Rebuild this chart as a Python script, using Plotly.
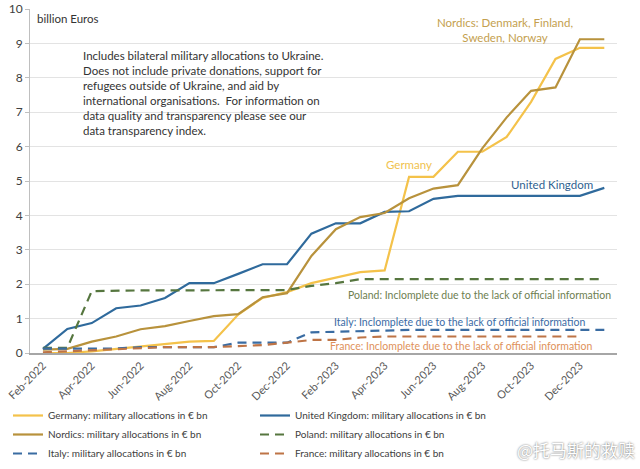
import plotly.graph_objects as go

months = ["Feb-2022", "Mar-2022", "Apr-2022", "May-2022", "Jun-2022", "Jul-2022",
          "Aug-2022", "Sep-2022", "Oct-2022", "Nov-2022", "Dec-2022", "Jan-2023",
          "Feb-2023", "Mar-2023", "Apr-2023", "May-2023", "Jun-2023", "Jul-2023",
          "Aug-2023", "Sep-2023", "Oct-2023", "Nov-2023", "Dec-2023", "Jan-2024"]
tick_labels = months[::2]

germany = [0.0, 0.0, 0.05, 0.12, 0.18, 0.27, 0.33, 0.35, 1.12, 1.6, 1.77, 2.03,
           2.2, 2.35, 2.4, 5.12, 5.12, 5.85, 5.85, 6.28, 7.3, 8.55, 8.87, 8.87]
uk = [0.12, 0.7, 0.87, 1.3, 1.38, 1.6, 2.03, 2.03, 2.3, 2.58, 2.58, 3.47,
      3.77, 3.77, 4.1, 4.12, 4.48, 4.57, 4.57, 4.57, 4.57, 4.57, 4.57, 4.8]
nordics = [0.1, 0.12, 0.33, 0.48, 0.69, 0.78, 0.93, 1.07, 1.13, 1.62, 1.74, 2.82,
           3.6, 3.95, 4.07, 4.5, 4.78, 4.88, 5.95, 6.85, 7.62, 7.72, 9.12, 9.12]
poland = [0.15, 0.15, 1.8, 1.82, 1.82, 1.82, 1.82, 1.82, 1.82, 1.82, 1.83, 1.95,
          2.03, 2.15, 2.15, 2.15, 2.15, 2.15, 2.15, 2.15, 2.15, 2.15, 2.15, 2.15]
italy = [0.13, 0.13, 0.13, 0.13, 0.17, 0.17, 0.17, 0.17, 0.3, 0.3, 0.3, 0.6,
         0.62, 0.64, 0.67, 0.67, 0.67, 0.67, 0.67, 0.67, 0.67, 0.67, 0.67, 0.67]
france = [0.02, 0.05, 0.08, 0.1, 0.15, 0.17, 0.17, 0.17, 0.2, 0.23, 0.3, 0.38,
          0.38, 0.45, 0.48, 0.48, 0.48, 0.48, 0.48, 0.48, 0.48, 0.48, 0.48, None]

FONT = "Lato"
C_GER = "#F4C24A"
C_UK = "#2F6A9C"
C_NOR = "#B8923C"
C_POL = "#56763F"
C_ITA = "#3A6CA2"
C_FRA = "#BE7446"

x = list(range(len(months)))
fig = go.Figure()
series = [
    ("Germany: military allocations in € bn", germany, C_GER, "solid"),
    ("United Kingdom: military allocations in € bn", uk, C_UK, "solid"),
    ("Nordics: military allocations in € bn", nordics, C_NOR, "solid"),
    ("Poland: military allocations in € bn", poland, C_POL, "9px,6px"),
    ("Italy: military allocations in € bn", italy, C_ITA, "9px,6px"),
    ("France: military allocations in € bn", france, C_FRA, "9px,6px"),
]
for name, vals, col, dash in series:
    fig.add_trace(go.Scatter(x=x, y=vals, mode="lines", name=name,
                             line=dict(color=col, width=2.2, dash=dash)))

ann = [
    dict(x=-0.33, y=9.71, text="billion Euros", xanchor="left", yanchor="middle",
         font=dict(size=11.5, color="#333333")),
    dict(x=1.55, y=8.9, text="Includes bilateral military allocations to Ukraine.<br>"
         "Does not include private donations, support for<br>"
         "refugees outside of Ukraine, and aid by<br>"
         "international organisations.  For information on<br>"
         "data quality and transparency please see our<br>"
         "data transparency index.", xanchor="left", yanchor="top", align="left",
         font=dict(size=11.5, color="#333333")),
    dict(x=18.93, y=9.4, text="Nordics: Denmark, Finland,<br>Sweden, Norway",
         xanchor="center", yanchor="middle", align="center",
         font=dict(size=11.5, color="#C4A04E")),
    dict(x=15.0, y=5.47, text="Germany", xanchor="center", yanchor="middle",
         font=dict(size=11.5, color="#F0C24E")),
    dict(x=20.86, y=4.91, text="United Kingdom", xanchor="center", yanchor="middle",
         font=dict(size=11.5, color="#2F5F8F")),
    dict(x=17.87, y=1.69, text="Poland: Inclomplete due to the lack of official information",
         xanchor="center", yanchor="middle", font=dict(size=10.5, color="#6E8050")),
    dict(x=17.07, y=0.9, text="Italy: Inclomplete due to the lack of official information",
         xanchor="center", yanchor="middle", font=dict(size=10.5, color="#3B6BA5")),
    dict(x=17.15, y=0.2, text="France: Inclomplete due to the lack of official information",
         xanchor="center", yanchor="middle", font=dict(size=10.5, color="#E0915A")),
]
for a in ann:
    fig.add_annotation(xref="x", yref="y", showarrow=False, **a)

fig.add_annotation(xref="paper", yref="paper", x=(637 - 30) / 587, y=-(449 - 353) / 344,
                   xanchor="right", yanchor="middle", showarrow=False, text="@托马斯的救赎",
                   font=dict(family="Noto Sans CJK SC", size=17, color="#ffffff",
                             shadow="0px 0px 2px #555555"))

fig.update_layout(
    width=640, height=469,
    margin=dict(l=30, r=23, t=9, b=116),
    paper_bgcolor="white", plot_bgcolor="white",
    font=dict(family=FONT, size=11, color="#404040"),
    showlegend=True,
    legend=dict(orientation="h", xref="container", yref="container",
                x=8 / 640, y=1 - 401 / 469, xanchor="left", yanchor="top",
                entrywidth=202, entrywidthmode="pixels", itemwidth=30,
                font=dict(size=10, color="#404040"), tracegroupgap=0,
                bgcolor="rgba(0,0,0,0)"),
    xaxis=dict(range=[-0.53, 23.52], tickmode="array", tickvals=x[::2],
               ticktext=tick_labels, tickangle=-45, showgrid=False,
               showline=True, linecolor="#a6a6a6", linewidth=2, ticks="",
               tickfont=dict(size=11, color="#595959"), zeroline=False,
               automargin=False),
    yaxis=dict(range=[0, 10], dtick=1, showgrid=True, gridcolor="#e3e3e3",
               gridwidth=1, showline=True, linecolor="#bfbfbf", linewidth=1,
               ticks="outside", ticklen=4, tickcolor="#bfbfbf",
               tickfont=dict(size=12, color="#404040"), zeroline=False,
               automargin=False),
)

fig.write_html("out.html", config={"displayModeBar": False},
               post_script="document.body.style.margin='0';")
